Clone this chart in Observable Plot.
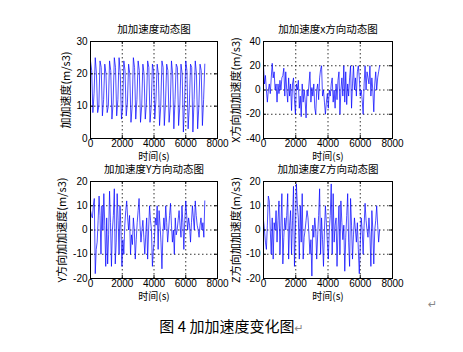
<!DOCTYPE html>
<html><head><meta charset="utf-8">
<script src="https://cdn.jsdelivr.net/npm/d3@7"></script>
<script src="https://cdn.jsdelivr.net/npm/@observablehq/plot@0.6"></script>
<style>
body{margin:0;background:#fff;}
#root{position:relative;width:463px;height:352px;overflow:hidden;background:#fff;}
#root svg{position:absolute;left:0;top:0;overflow:visible;background:transparent;}
.cap{position:absolute;left:0;width:463px;top:316px;text-align:center;font-family:"Noto Sans CJK SC",sans-serif;font-size:15px;color:#000;line-height:20px;white-space:pre;}
.ret{color:#888;font-size:11px;font-family:"DejaVu Sans",sans-serif;}
.ret2{position:absolute;left:428px;top:298px;}
</style></head><body><div id="root"></div>
<script>
// ---- data ----
const xTicks = [0, 2000, 4000, 6000, 8000];
const dtMag = 75;   // s, sampling interval of magnitude series
const dtAxis = 60;  // s, sampling interval of X/Y/Z series

const magValues = [
  24,21,8,14, 25,20,8,10, 24,22,7,12, 23,20,8,10, 24,21,6,11, 25,22,7,12,
  25,20,6,10, 24,21,7,11, 23,20,5,10, 25,22,6,12, 24,21,5,10, 23,20,6,11,
  24,22,5,10, 23,21,6,12, 23,20,4,10, 24,22,4,11, 23,21,5,10, 24,20,3,12,
  23,22,4,10, 23,20,2,11, 24,21,3,10, 23,22,2,12, 24,20,3,10, 23,21,4,12,
  23
];
const xValues = [
  20,5,12,0,-10,0,5,-3,10,22,
  10,15,0,5,-10,5,-3,8,0,10,
  12,18,-5,15,0,-10,10,-5,5,-17,
  5,10,-8,-20,5,0,8,-15,-5,-22,
  5,-10,0,-8,-23,0,-5,5,15,-10,
  2,-5,5,-15,-20,0,5,-8,10,17,
  20,-5,0,-10,-20,-10,-3,-15,0,-5,
  5,10,-10,0,-15,5,-8,8,15,-20,
  0,10,-5,20,-10,15,-12,5,-5,10,
  20,-15,5,20,0,10,-5,15,20,10,
  -5,0,-8,-20,5,20,0,15,10,5,
  20,-5,10,0,-18,5,15,0,10,15,
  20
];
const yValues = [
  8,6,5,10,13,-18,-8,-5,4,14,
  6,-10,10,0,15,2,-15,5,-14,-2,
  16,3,-15,0,6,17,-14,-5,15,4,
  -10,10,0,-15,-4,-10,2,8,12,5,
  0,6,-10,-2,-6,5,0,-12,-4,3,
  8,13,2,-5,0,4,-3,-10,-2,5,
  -12,0,10,4,0,-15,-8,-5,5,2,
  10,-8,8,2,-5,-16,-2,5,0,10,
  3,-5,0,6,11,2,-5,0,-10,5,
  -2,0,4,8,2,-3,10,3,-8,4,
  12,6,0,5,2,-5,3,10,5,0,
  12,6,2,0,-3,2,5,0,3,-3,
  12
];
const zValues = [
  4,0,-5,-8,2,14,12,0,-10,5,
  -12,3,0,8,-5,4,12,-10,2,15,
  -14,-3,5,0,6,15,-12,2,8,-10,
  4,18,-15,0,19,10,5,-12,10,-5,
  15,-12,-3,0,4,8,5,-2,-10,-4,
  -19,2,-3,5,0,-12,-2,6,17,-10,
  5,-4,-15,0,10,3,-5,-12,0,6,
  19,-10,15,-5,2,5,-15,0,10,-10,
  12,3,-4,2,-17,-3,6,15,-5,-15,
  13,2,-12,-2,5,0,-5,3,-8,-18,
  -6,5,0,-10,2,11,4,0,-3,5,
  -2,-15,8,0,-14,0,4,10,2,-5,
  0
];

const panels = [
  {values: magValues, dt: dtMag, yDomain: [0, 30], yTicks: [0, 10, 20, 30],
   title: "加加速度动态图", ylabel: "加加速度(m/s3)",
   left: 90, right: 217, top: 41, bottom: 138, ylabelDx: -24},
  {values: xValues, dt: dtAxis, yDomain: [-40, 40], yTicks: [-40, -20, 0, 20, 40],
   title: "加加速度x方向动态图", ylabel: "X方向加加速度(m/s3)",
   left: 263, right: 392, top: 41, bottom: 138, ylabelDx: -27},
  {values: yValues, dt: dtAxis, yDomain: [-20, 20], yTicks: [-20, -10, 0, 10, 20],
   title: "加加速度Y方向动态图", ylabel: "Y方向加加速度(m/s3)",
   left: 90, right: 217, top: 181, bottom: 278, ylabelDx: -28},
  {values: zValues, dt: dtAxis, yDomain: [-20, 20], yTicks: [-20, -10, 0, 10, 20],
   title: "加加速度Z方向动态图", ylabel: "Z方向加加速度(m/s3)",
   left: 263, right: 392, top: 181, bottom: 278, ylabelDx: -27}
];

const W = 463, H = 352;
const cjk = "Noto Sans CJK SC, sans-serif";
const latin = "Liberation Sans, Arial, sans-serif";

function panel(cfg) {
  const data = cfg.values.map((v, i) => ({t: i * cfg.dt, v}));
  const [y0, y1] = cfg.yDomain;
  const innerH = cfg.bottom - cfg.top, innerW = cfg.right - cfg.left;
  const ty = 3 * (y1 - y0) / innerH, tx = 3 * 8000 / innerW;
  const grid = {stroke: "black", strokeOpacity: 1, strokeWidth: 0.8, strokeDasharray: "1.5,2.5"};
  return Plot.plot({
    width: W, height: H,
    marginLeft: cfg.left, marginRight: W - cfg.right,
    marginTop: cfg.top, marginBottom: H - cfg.bottom,
    style: {background: "transparent", fontFamily: latin, fontSize: "10px", color: "black", overflow: "visible"},
    x: {domain: [0, 8000]},
    y: {domain: cfg.yDomain},
    marks: [
      Plot.gridX(xTicks, grid),
      Plot.gridY(cfg.yTicks, grid),
      Plot.line(data, {x: "t", y: "v", stroke: "#0000ff", strokeWidth: 0.7}),
      Plot.ruleX(xTicks, {x: d => d, y1: y0, y2: y0 + ty, stroke: "black"}),
      Plot.ruleX(xTicks, {x: d => d, y1: y1 - ty, y2: y1, stroke: "black"}),
      Plot.ruleY(cfg.yTicks, {y: d => d, x1: 0, x2: tx, stroke: "black"}),
      Plot.ruleY(cfg.yTicks, {y: d => d, x1: 8000 - tx, x2: 8000, stroke: "black"}),
      Plot.frame({stroke: "black", strokeWidth: 1}),
      Plot.axisX(xTicks, {tickSize: 0, tickPadding: 1.5, tickFormat: d => String(d), label: null, fontSize: 10}),
      Plot.axisY(cfg.yTicks, {tickSize: 0, tickPadding: 3, tickFormat: d => String(d), label: null, fontSize: 10}),
      Plot.text([cfg.title], {text: d => d, frameAnchor: "top", dy: -12, lineAnchor: "middle", fontSize: 10.5, fontFamily: cjk, fill: "black"}),
      Plot.text(["时间(s)"], {text: d => d, frameAnchor: "bottom", dy: 18, lineAnchor: "middle", fontSize: 10, fontFamily: cjk, fill: "black"}),
      Plot.text([cfg.ylabel], {text: d => d, frameAnchor: "left", dx: cfg.ylabelDx, rotate: -90, textAnchor: "middle", lineAnchor: "middle", fontSize: 11, fontFamily: cjk, fill: "black"})
    ]
  });
}

const root = document.getElementById("root");
for (const p of panels) root.appendChild(panel(p));

const cap = document.createElement("div");
cap.className = "cap";
cap.innerHTML = '图 4 加加速度变化图<span class="ret">↵</span>';
root.appendChild(cap);
const r2 = document.createElement("div");
r2.className = "ret ret2";
r2.textContent = "↵";
root.appendChild(r2);
</script>
</body></html>
